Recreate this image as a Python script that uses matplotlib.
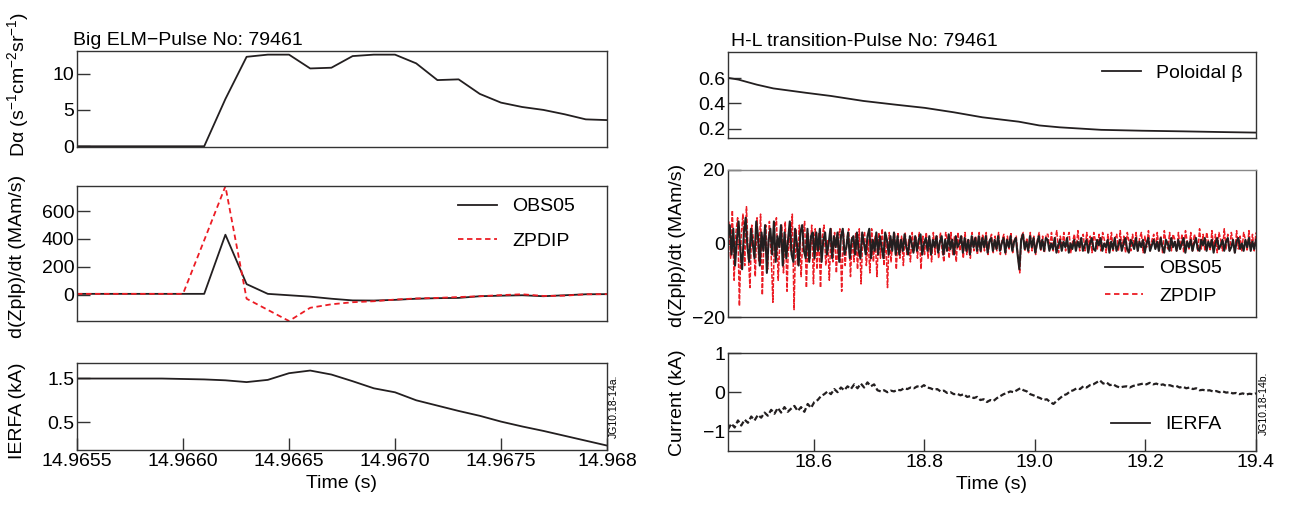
import numpy as np
import matplotlib
matplotlib.use('Agg')
import matplotlib.pyplot as plt
from matplotlib.lines import Line2D

plt.rcParams['font.family'] = ['Liberation Sans', 'DejaVu Sans']
plt.rcParams['mathtext.fontset'] = 'custom'
plt.rcParams['mathtext.rm'] = 'Liberation Sans'
plt.rcParams['mathtext.it'] = 'Liberation Sans:italic'
plt.rcParams['axes.unicode_minus'] = True

BLACK = '#231f20'
RED = '#ec1c24'

# ---- Big ELM, pulse 79461 (samples every 0.1 ms) ----
t_elm = np.linspace(14.9655, 14.968, 26)
d_alpha = [0, 0, 0, 0, 0, 0, 0, 6.5, 12.3, 12.6, 12.6, 10.7, 10.8, 12.4, 12.6,
           12.6, 11.4, 9.1, 9.2, 7.2, 6.0, 5.4, 5.0, 4.4, 3.7, 3.6]
obs05_elm = [5, 5, 5, 5, 5, 5, 5, 430, 75, 5, -5, -15, -30, -42, -43,
             -38, -30, -26, -24, -12, -8, -5, -12, -5, 2, 3]
zpdip_elm = [5, 5, 5, 5, 5, 5, 390, 778, -30, -110, -190, -95, -70, -55, -48,
             -36, -28, -24, -18, -12, -4, 2, -10, -8, 2, 3]
ierfa_elm = [1.49, 1.49, 1.49, 1.49, 1.49, 1.48, 1.47, 1.45, 1.41, 1.46, 1.61,
             1.67, 1.58, 1.43, 1.27, 1.18, 1.0, 0.88, 0.76, 0.65, 0.52, 0.41,
             0.31, 0.2, 0.09, -0.02]
elm_ticks = [14.9655, 14.9660, 14.9665, 14.9670, 14.9675, 14.968]
elm_ticklabels = ['14.9655', '14.9660', '14.9665', '14.9670', '14.9675', '14.968']

# ---- H-L transition, pulse 79461 ----
t_beta = [18.444, 18.464, 18.497, 18.527, 18.586, 18.631, 18.69, 18.749, 18.801,
          18.853, 18.905, 18.971, 19.008, 19.045, 19.12, 19.194, 19.268, 19.342, 19.4]
beta_pol = [0.605, 0.59, 0.55, 0.52, 0.485, 0.46, 0.42, 0.39, 0.365,
            0.33, 0.29, 0.255, 0.225, 0.21, 0.19, 0.183, 0.178, 0.172, 0.168]

obs05_hl = [
    # 18.445 - 18.60
    2, 5, -3, 4, -6, 1, 6, -2, -7, 3, 7, -1, -5, 4, 0, -4, 6, 2, -6, 3,
    -2, 5, -8, 1, 4, -3, 6, -5, 2, -1, 5, -6, 3, -4, 1, 6, -3, -5, 4, 0,
    -6, 3, 5, -2, -4, 4, -5, 2, 3,
    # 18.60 - 18.75
    -4, 3, -2, 4, -5, 1, 3, -3, 0, 4, -4, 2, -1, 3, -5, 2, 4, -3, -1, 3,
    -4, 1, 2, -3, 3, -2, -4, 3, 0, -3, 2, 4, -4, 1, -2, 3, -3, 2, -1, -4,
    3, 1, -3, 2, -2, 3, -3,
    # 18.75 - 18.90
    2, -3, 1, -2, 2.5, -1, -3, 2, 0, -2.5, 2, -2, 1, 2.5, -3, 0, 1.5, -2, 2, -3,
    1, -1, 2, -2.5, 0.5, 2, -3, 1, -2, 2.5, -1.5, 1, -3, 2, -1, 0, 2, -2.5, 1.5, -2,
    1, -3, 2, -1, 1.5, -2, 2,
    # 18.90 - 19.02
    -2, 1.5, -1, 2, -2.5, 0.5, 1.5, -2, 1, -1.5, 2, -2, 0, 1.5, -2.5, 1, -1, 2, -2, 0.5,
    1.5, -3, -7, 1, 2.5, -1.5, 0.5, -2, 2, -1, 1.5, -2.5, 0, 2, -1.5, 1, -2, 1.5,
    # 19.02 - 19.40
    1, -2, 0, -1.5, 1.5, -2.5, -0.5, 1, -2, 0.5, -1, 1.5, -2.5, 0, -1.5, 1, -2, 0.5, -1, 1.5,
    -2, -0.5, 1, -2.5, 0, 1.5, -1.5, -2, 1, -0.5, 1.5, -2, 0, -1, 1, -2.5, 0.5, -1.5, 1.5, -2,
    -0.5, 1, -2, 0, 1.5, -1.5, -2.5, 1, 0, -1.5, 1.5, -2, 0.5, -1, 1, -2.5, 0, 1.5, -2, -0.5,
    1, -1.5, 0.5, -2, 1.5, -1, -2.5, 1, 0, -2, 1.5, -1, 0.5, -2, 1, -1.5, 0, 1.5, -2.5, 0.5,
    -1, 1, -2, 0, 1.5, -1.5, -2, 1, -0.5, 1.5, -2, 0.5, -1, 1, -2.5, 0, 1.5, -1.5, -0.5, 1,
    -2, 0.5, 1.5, -2, -1, 1, -2.5, 0.5, 1.5, -1.5, 0, -2, 1, -1, 1.5, -2, 0.5, -1.5, 1]
zpdip_hl = [
    # 18.445 - 18.60
    6, -4, 9, -10, 3, 7, -17, 2, 8, -6, 10, -3, -12, 5, 1, -9, 7, -5, 8, -14,
    2, 5, -7, 6, -3, -16, 4, 7, -10, 1, 5, -8, 6, -13, 3, -2, 8, -18, 4, -6,
    5, -9, 2, 6, -12, 3, -4, 5, -11,
    # 18.60 - 18.75
    4, -7, 3, -12, 2, 5, -6, 1, -10, 4, -5, 3, -8, 2, 4, -13, 3, -6, 1, 4,
    -9, 2, -5, 3, -7, 4, -11, 2, 3, -6, 1, -8, 4, -5, 2, -9, 3, -4, 4, -6,
    2, -12, 3, -5, 1, 3, -7,
    # 18.75 - 18.90
    3, -4, 2, -6, 3, -3, 1, -5, 3, -2, 2, -4, 3, -7, 2, -3, 3, -4, 1, -5,
    3, -3, 2, -4, 3, -2, -5, 3, 1, -4, 3, -3, 2, -5, 3, -2, 2, -4, 3, -3,
    1, -4, 3, -2, 2, -3, 3,
    # 18.90 - 19.02
    -2.5, 2.5, -2, 3, -3, 1, 2.5, -2.5, 2, -2, 3, -3, 1, 2.5, -3, 2, -1.5, 3, -2.5, 1,
    2, -3.5, -8, 2, 3, -2, 1.5, -2.5, 3, -2, 2, -3, 1, 3, -2, 2, -2.5, 2.5,
    # 19.02 - 19.40
    2.5, -1.5, 3, -2, 1, 3.5, -2.5, 2, -1, 3, -2, 1.5, 3, -2.5, 0.5, 2.5, -1.5, 3.5, -2, 1,
    2.5, -2, 3, -1, 2, -2.5, 3, 0.5, -1.5, 2.5, -2, 3, 1, -2.5, 2.5, -1, 3, -2, 1.5, 2.5,
    -2, 3.5, -1.5, 2, -2.5, 3, 0.5, -2, 2.5, -1, 3, -2, 1.5, 3, -2.5, 2, -1, 3.5, -2, 1,
    2.5, -1.5, 3, -2, 2, -2.5, 3.5, 0, -1.5, 3, -2, 2.5, 1, -2, 3, -1.5, 2.5, -2.5, 3.5, 0.5,
    -1.5, 3, -2, 2.5, 1, -2, 4, -1.5, 2.5, -2, 3, 0.5, -2, 3.5, -1.5, 2.5, -2.5, 3, 1, -2,
    4, -1.5, 2.5, -2, 3, 0.5, -2.5, 3.5, -1.5, 2, -2, 3, 1, -2, 3.5, -1.5, 2.5, -2, 3]
t_obs = np.linspace(18.445, 19.4, len(obs05_hl))
t_zpd = np.linspace(18.4465, 19.4, len(zpdip_hl))

ierfa_hl = [-0.95, -0.8, -0.9, -0.72, -0.85, -0.7, -0.78, -0.62, -0.72, -0.58,
            -0.65, -0.52, -0.6, -0.45, -0.55, -0.4, -0.52, -0.38, -0.5, -0.42,
            -0.35, -0.48, -0.38, -0.5, -0.3, -0.4, -0.25, -0.2, -0.1, -0.05,
            0.02, -0.05, 0.08, 0.0, 0.12, 0.05, 0.15, 0.08, 0.2, 0.1,
            0.22, 0.12, 0.25, 0.15, 0.2, 0.05, 0.02, 0.05, 0.0, 0.04,
            0.02, 0.06, 0.05, 0.1, 0.08, 0.12, 0.1, 0.15, 0.12, 0.18,
            0.12, 0.1, 0.06, 0.08, 0.02, 0.04, -0.02, 0.0, -0.05, -0.04,
            -0.08, -0.05, -0.12, -0.1, -0.15, -0.12, -0.2, -0.18, -0.25, -0.2,
            -0.22, -0.15, -0.1, -0.05, -0.02, 0.02, 0.0, 0.05, 0.1, 0.05,
            0.02, -0.05, -0.08, -0.12, -0.15, -0.2, -0.18, -0.25, -0.3, -0.22,
            -0.15, -0.08, -0.05, 0.02, 0.05, 0.1, 0.08, 0.15, 0.12, 0.18,
            0.2, 0.25, 0.3, 0.22, 0.25, 0.18, 0.2, 0.15, 0.12, 0.14,
            0.15, 0.12, 0.16, 0.18, 0.2, 0.22, 0.2, 0.24, 0.2, 0.22,
            0.18, 0.2, 0.16, 0.18, 0.15, 0.16, 0.12, 0.14, 0.1, 0.12,
            0.08, 0.1, 0.05, 0.06, 0.04, 0.05, 0.02, 0.03, 0.0, 0.02,
            -0.01, 0.0, -0.03, -0.02, -0.05, -0.03, -0.06, -0.04, -0.05, -0.03]
t_ierfa = np.linspace(18.445, 19.4, len(ierfa_hl))
hl_ticks = [18.6, 18.8, 19.0, 19.2, 19.4]

FS = 14

fig = plt.figure(figsize=(12.92, 5.05), dpi=100)


def axes_px(x0, y0, x1, y1):
    W, H = 1292, 505
    return fig.add_axes([x0 / W, 1 - y1 / H, (x1 - x0) / W, (y1 - y0) / H])


def style(ax, xticks=False):
    for s in ax.spines.values():
        s.set_color('#333333')
        s.set_linewidth(1.0)
    ax.tick_params(direction='in', length=9, width=1, color='#333333',
                   labelsize=FS, pad=2, right=False, top=False)
    if not xticks:
        ax.tick_params(axis='x', bottom=False, labelbottom=False)


# left column
ax1 = axes_px(77, 51, 607, 147)
ax1.plot(t_elm, d_alpha, color=BLACK, lw=1.3)
ax1.set_xlim(14.9655, 14.968)
ax1.set_ylim(-0.1, 13.1)
ax1.set_yticks([0, 5, 10])
style(ax1)
ax1.set_title('Big ELM\u2212Pulse No: 79461', loc='left', fontsize=FS, pad=4, x=-0.008)

ax2 = axes_px(77, 186, 607, 321)
ax2.plot(t_elm, obs05_elm, color=BLACK, lw=1.3, label='OBS05')
ax2.plot(t_elm, zpdip_elm, color=RED, lw=1.3, ls=(0, (3, 2)), label='ZPDIP')
ax2.set_xlim(14.9655, 14.968)
ax2.set_ylim(-190, 780)
ax2.set_yticks([0, 200, 400, 600])
style(ax2)
ax2.legend(loc='upper right', frameon=False, fontsize=FS, handlelength=2.0,
           labelspacing=0.85, bbox_to_anchor=(0.955, 0.97), borderaxespad=0)

ax3 = axes_px(77, 363, 607, 450)
ax3.plot(t_elm, ierfa_elm, color=BLACK, lw=1.3)
ax3.set_xlim(14.9655, 14.968)
ax3.set_ylim(-0.12, 1.84)
ax3.set_yticks([0.5, 1.5])
ax3.set_xticks(elm_ticks)
ax3.set_xticklabels(elm_ticklabels)
style(ax3, xticks=True)
ax3.set_xlabel('Time (s)', fontsize=FS, labelpad=4)

fig.text(18 / 1292, 1 - 84 / 505, 'D\u03b1 (s$^{-1}$cm$^{-2}$sr$^{-1}$)', rotation=90,
         ha='center', va='center', fontsize=FS)
fig.text(18 / 1292, 1 - 256 / 505, 'd(Zplp)/dt (MAm/s)', rotation=90,
         ha='center', va='center', fontsize=FS)
fig.text(18 / 1292, 1 - 411 / 505, 'IERFA (kA)', rotation=90,
         ha='center', va='center', fontsize=FS)
fig.text(614 / 1292, 1 - 406 / 505, 'JG10.18-14a.', rotation=90,
         ha='center', va='center', fontsize=7.5)

# right column
ax4 = axes_px(728, 52, 1256, 138)
ax4.plot(t_beta, beta_pol, color=BLACK, lw=1.3, label='Poloidal \u03b2')
ax4.set_xlim(18.445, 19.4)
ax4.set_ylim(0.125, 0.81)
ax4.set_yticks([0.2, 0.4, 0.6])
style(ax4)
ax4.set_title('H-L transition-Pulse No: 79461', loc='left', fontsize=FS, pad=4, x=0.005)
ax4.legend(loc='upper right', frameon=False, fontsize=FS, handlelength=2.0,
           bbox_to_anchor=(0.99, 0.95), borderaxespad=0)

ax5 = axes_px(728, 170, 1256, 317)
ax5.plot(t_zpd, zpdip_hl, color=RED, lw=1.1, ls=(0, (3, 1)))
ax5.plot(t_obs, obs05_hl, color=BLACK, lw=1.5)
ax5.set_xlim(18.445, 19.4)
ax5.set_ylim(-20, 20)
ax5.set_yticks([-20, 0, 20])
style(ax5)
ax5.spines['top'].set_color('#888888')
h5 = [Line2D([], [], color=BLACK, lw=1.3), Line2D([], [], color=RED, lw=1.3, ls=(0, (3, 2)))]
ax5.legend(h5, ['OBS05', 'ZPDIP'], loc='lower right', frameon=False, fontsize=FS,
           handlelength=2.0, labelspacing=0.5, bbox_to_anchor=(0.95, 0.03), borderaxespad=0)

ax6 = axes_px(728, 353, 1256, 451)
ax6.plot(t_ierfa, ierfa_hl, color=BLACK, lw=1.6, ls=(0, (2.5, 1.2)))
ax6.set_xlim(18.445, 19.4)
ax6.set_ylim(-1.5, 1.0)
ax6.set_yticks([-1, 0, 1])
ax6.set_xticks(hl_ticks)
ax6.set_xticklabels(['18.6', '18.8', '19.0', '19.2', '19.4'])
style(ax6, xticks=True)
ax6.set_xlabel('Time (s)', fontsize=FS, labelpad=4)
ax6.legend([Line2D([], [], color=BLACK, lw=1.3)], ['IERFA'], loc='lower right',
           frameon=False, fontsize=FS, handlelength=2.0,
           bbox_to_anchor=(0.95, 0.1), borderaxespad=0)

fig.text(677 / 1292, 1 - 245 / 505, 'd(Zplp)/dt (MAm/s)', rotation=90,
         ha='center', va='center', fontsize=FS)
fig.text(677 / 1292, 1 - 403 / 505, 'Current (kA)', rotation=90,
         ha='center', va='center', fontsize=FS)
fig.text(1264 / 1292, 1 - 403 / 505, 'JG10.18-14b.', rotation=90,
         ha='center', va='center', fontsize=7.5)

fig.savefig('out.png', dpi=100)
